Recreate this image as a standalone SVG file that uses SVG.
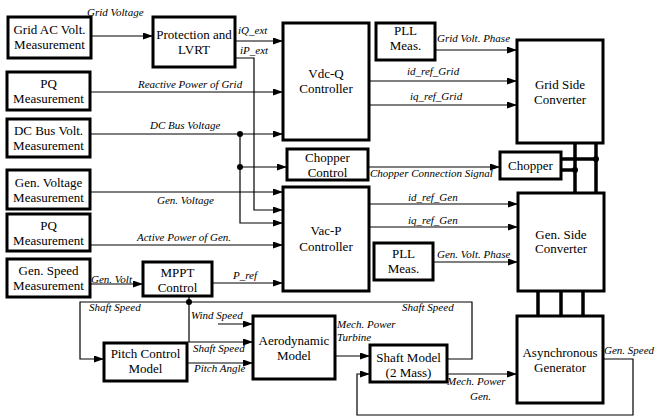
<svg xmlns="http://www.w3.org/2000/svg" width="656" height="419" viewBox="0 0 656 419">
<style>
.box{fill:#fff;stroke:#000;stroke-width:3}
.t{font-family:"Liberation Serif","Times New Roman",serif;font-size:13px;text-anchor:middle;fill:#000}
.l{font-family:"Liberation Serif","Times New Roman",serif;font-size:11px;font-style:italic;fill:#000}
.w{fill:none;stroke:#000;stroke-width:1.2}
.a{marker-end:url(#ah)}
.bus{fill:none;stroke:#000;stroke-width:3.5}
.dot{fill:#000}
</style>
<defs>
<marker id="ah" markerUnits="userSpaceOnUse" markerWidth="11" markerHeight="8" refX="10" refY="3.5" orient="auto">
<path d="M0,0 L10,3.5 L0,7 z" fill="#000"/>
</marker>
</defs>
<rect width="656" height="419" fill="#fff"/>
<g id="connectors">
<path class="w a" d="M92,36 H153"/>
<path class="w a" d="M235,41 H283"/>
<path class="w a" d="M235,58 H254 V210 H283"/>
<path class="w a" d="M90,92 H283"/>
<path class="w a" d="M90,134 H283"/>
<path class="w a" d="M240,134 V223 H283"/>
<path class="w a" d="M240,167 H287"/>
<path class="w a" d="M90,192 H283"/>
<path class="w a" d="M90,245 H283"/>
<path class="w a" d="M90,284 H143"/>
<path class="w a" d="M212,283 H283"/>
<path class="w a" d="M435,50 H517"/>
<path class="w a" d="M369,81 H517"/>
<path class="w a" d="M369,105 H517"/>
<path class="w a" d="M368,167 H500"/>
<path class="w a" d="M369,204 H518"/>
<path class="w a" d="M369,227 H518"/>
<path class="w a" d="M433,262 H518"/>
<path class="w a" d="M447,359 H472 V302 H80 V359 H104"/>
<path class="w a" d="M189,296 V342 H253"/>
<path class="w a" d="M218,324 H253"/>
<path class="w a" d="M187,363 H253"/>
<path class="w a" d="M335,356 H370"/>
<path class="w a" d="M447,374 H517"/>
<path class="w a" d="M603,359 H633 V415 H357 V374 H370"/>
<path class="bus" d="M575,143 V193 M596,143 V193 M561,159 H596 M561,170 H575 M538,291 V316 M561,291 V316 M583,291 V316"/>
<circle class="dot" cx="240" cy="134" r="3"/>
<circle class="dot" cx="240" cy="167" r="3"/>
<circle class="dot" cx="189" cy="302" r="3"/>
<circle class="dot" cx="596" cy="159" r="3"/>
<circle class="dot" cx="575" cy="170" r="3"/>
<text class="l" x="87" y="16">Grid Voltage</text>
<text class="l" x="238" y="34">iQ_ext</text>
<text class="l" x="240" y="54">iP_ext</text>
<text class="l" x="138" y="88">Reactive Power of Grid</text>
<text class="l" x="150" y="129">DC Bus Voltage</text>
<text class="l" x="157" y="204">Gen. Voltage</text>
<text class="l" x="137" y="241">Active Power of Gen.</text>
<text class="l" x="91" y="283">Gen. Volt</text>
<text class="l" x="233" y="279">P_ref</text>
<text class="l" x="437" y="42">Grid Volt. Phase</text>
<text class="l" x="407" y="75">id_ref_Grid</text>
<text class="l" x="410" y="100">iq_ref_Grid</text>
<text class="l" x="370" y="177">Chopper Connection Signal</text>
<text class="l" x="408" y="201">id_ref_Gen</text>
<text class="l" x="408" y="224">iq_ref_Gen</text>
<text class="l" x="437" y="258">Gen. Volt. Phase</text>
<text class="l" x="89" y="311">Shaft Speed</text>
<text class="l" x="191" y="319">Wind Speed</text>
<text class="l" x="193" y="352">Shaft Speed</text>
<text class="l" x="194" y="372">Pitch Angle</text>
<text class="l" x="337" y="328">Mech. Power</text>
<text class="l" x="337" y="341">Turbine</text>
<text class="l" x="402" y="311">Shaft Speed</text>
<text class="l" x="447" y="385">Mech. Power</text>
<text class="l" x="470" y="400">Gen.</text>
<text class="l" x="604" y="354">Gen. Speed</text>
</g>
<g id="gridac"><rect class="box" x="8" y="17" width="83" height="41"/><text class="t" x="49.5" y="33.5">Grid AC Volt.</text><text class="t" x="49.5" y="48.5">Measurement</text></g>
<g id="pq1"><rect class="box" x="7" y="72" width="83" height="38"/><text class="t" x="48.5" y="88">PQ</text><text class="t" x="48.5" y="103">Measurement</text></g>
<g id="dcbus"><rect class="box" x="7" y="119" width="83" height="38"/><text class="t" x="48.5" y="135">DC Bus Volt.</text><text class="t" x="48.5" y="150">Measurement</text></g>
<g id="genv"><rect class="box" x="7" y="170" width="83" height="39"/><text class="t" x="48.5" y="186.5">Gen. Voltage</text><text class="t" x="48.5" y="201.5">Measurement</text></g>
<g id="pq2"><rect class="box" x="7" y="214" width="83" height="37"/><text class="t" x="48.5" y="229.5">PQ</text><text class="t" x="48.5" y="244.5">Measurement</text></g>
<g id="genspeed"><rect class="box" x="7" y="259" width="83" height="38"/><text class="t" x="48.5" y="275">Gen. Speed</text><text class="t" x="48.5" y="290">Measurement</text></g>
<g id="protection"><rect class="box" x="153" y="17" width="82" height="50"/><text class="t" x="194" y="38.5">Protection and</text><text class="t" x="194" y="53.5">LVRT</text></g>
<g id="vdcq"><rect class="box" x="283" y="23" width="86" height="117"/><text class="t" x="326" y="77.5">Vdc-Q</text><text class="t" x="326" y="92.5">Controller</text></g>
<g id="pll1"><rect class="box" x="376" y="23" width="59" height="37"/><text class="t" x="405.5" y="34.5">PLL</text><text class="t" x="405.5" y="50">Meas.</text></g>
<g id="gsc"><rect class="box" x="517" y="40" width="86" height="103"/><text class="t" x="560" y="88.5">Grid Side</text><text class="t" x="560" y="103.5">Converter</text></g>
<g id="chopctrl"><rect class="box" x="287" y="149" width="81" height="31"/><text class="t" x="327.5" y="161.5">Chopper</text><text class="t" x="327.5" y="176.5">Control</text></g>
<g id="chopper"><rect class="box" x="500" y="152" width="61" height="27"/><text class="t" x="530.5" y="169.5">Chopper</text></g>
<g id="vacp"><rect class="box" x="283" y="187" width="86" height="104"/><text class="t" x="326" y="234.5">Vac-P</text><text class="t" x="326" y="250.5">Controller</text></g>
<g id="gensc"><rect class="box" x="518" y="193" width="86" height="98"/><text class="t" x="561" y="238.5">Gen. Side</text><text class="t" x="561" y="253">Converter</text></g>
<g id="pll2"><rect class="box" x="374" y="243" width="59" height="37"/><text class="t" x="403.5" y="258">PLL</text><text class="t" x="403.5" y="273">Meas.</text></g>
<g id="mppt"><rect class="box" x="143" y="262" width="69" height="34"/><text class="t" x="177.5" y="276.5">MPPT</text><text class="t" x="177.5" y="291.5">Control</text></g>
<g id="aero"><rect class="box" x="253" y="316" width="82" height="63"/><text class="t" x="294" y="344.5">Aerodynamic</text><text class="t" x="294" y="359.5">Model</text></g>
<g id="pitch"><rect class="box" x="104" y="343" width="83" height="38"/><text class="t" x="145.5" y="358">Pitch Control</text><text class="t" x="145.5" y="373">Model</text></g>
<g id="shaft"><rect class="box" x="370" y="345" width="77" height="37"/><text class="t" x="408.5" y="361.5">Shaft Model</text><text class="t" x="408.5" y="376.5">(2 Mass)</text></g>
<g id="async"><rect class="box" x="517" y="316" width="86" height="87"/><text class="t" x="560" y="356.5">Asynchronous</text><text class="t" x="560" y="371.5">Generator</text></g>
</svg>
